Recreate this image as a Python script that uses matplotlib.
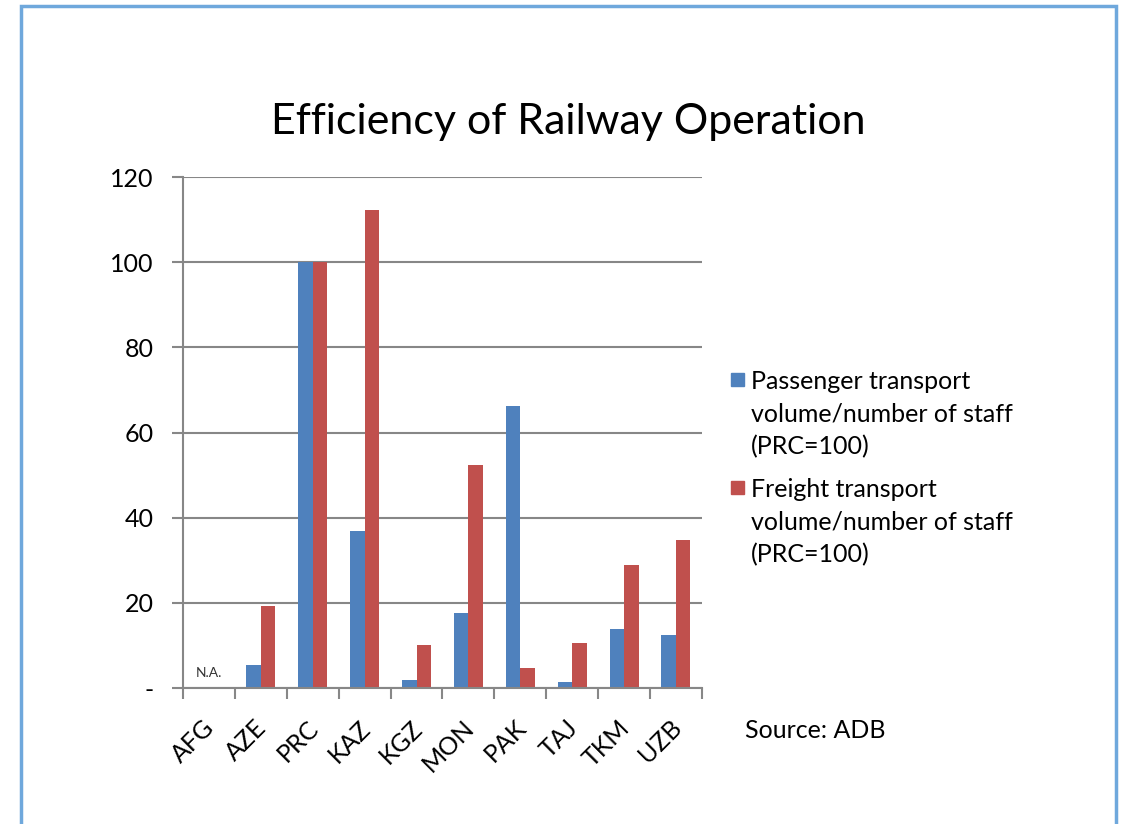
import numpy as np
import matplotlib.pyplot as plt
from matplotlib.patches import Rectangle

plt.rcParams['font.family'] = ['Lato', 'DejaVu Sans']

## Données

pays = ['AFG', 'AZE', 'PRC', 'KAZ', 'KGZ', 'MON', 'PAK', 'TAJ', 'TKM', 'UZB']
passagers = [np.nan, 5.4, 100, 36.9, 1.9, 17.6, 66.2, 1.4, 13.8, 12.4]
fret = [np.nan, 19.2, 100, 112.2, 10.1, 52.3, 4.7, 10.6, 28.9, 34.7]
yticks = [0, 20, 40, 60, 80, 100, 120]
ylabels = ['-', '20', '40', '60', '80', '100', '120']
legende = ['Passenger transport\nvolume/number of staff\n(PRC=100)',
           'Freight transport\nvolume/number of staff\n(PRC=100)']

bleu = '#4f81bd'
rouge = '#c0504d'
gris = '#878787'

fig = plt.figure(figsize=(11.23, 8.24), dpi=100)

# cadre bleu autour du graphique
fig.patches.append(Rectangle((0.019, -0.05), 0.975, 1.043, transform=fig.transFigure,
                             fill=False, edgecolor='#6fa8dc', linewidth=2.5))

ax = fig.add_axes([0.163, 0.165, 0.462, 0.62])

x = np.arange(len(pays))
w = 0.28
ax.bar(x - w/2, passagers, w, color=bleu)
ax.bar(x + w/2, fret, w, color=rouge)

ax.text(0, 2.2, 'N.A.', fontsize=10, ha='center', va='bottom', color='#333333')

ax.set_xlim(-0.5, len(pays) - 0.5)
ax.set_ylim(0, 120)
ax.set_yticks(yticks)
ax.set_yticklabels(ylabels, fontsize=18)
ax.set_xticks(x - 0.12)
ax.set_xticklabels(pays, rotation=45, ha='right', rotation_mode='anchor', fontsize=18)
ax.set_xticks(np.arange(len(pays) + 1) - 0.5, minor=True)
ax.tick_params(axis='x', which='major', length=0, pad=20)
ax.tick_params(axis='x', which='minor', length=8, width=1.5, color=gris)
ax.tick_params(axis='y', length=8, width=1.5, color=gris, pad=13)

ax.yaxis.grid(True, color=gris, linewidth=1.5)
ax.set_axisbelow(True)
for s in ['top', 'right']:
    ax.spines[s].set_visible(False)
for s in ['left', 'bottom']:
    ax.spines[s].set_color(gris)
    ax.spines[s].set_linewidth(1.5)

fig.text(0.506, 0.852, 'Efficiency of Railway Operation', fontsize=31, ha='center', va='center')

# légende faite à la main (carré aligné sur la première ligne)
for i, (lab, c) in enumerate(zip(legende, [bleu, rouge])):
    y0 = 0.539 - i * 0.131
    fig.patches.append(Rectangle((0.651, y0 - 0.008), 0.0115, 0.0158,
                                 transform=fig.transFigure, color=c))
    fig.text(0.669, y0 + 0.012, lab, fontsize=18, ha='left', va='top',
             linespacing=1.5, transform=fig.transFigure)
    
fig.text(0.663, 0.114, 'Source: ADB', fontsize=18, ha='left', va='center')

plt.savefig('out.png', dpi=100)
